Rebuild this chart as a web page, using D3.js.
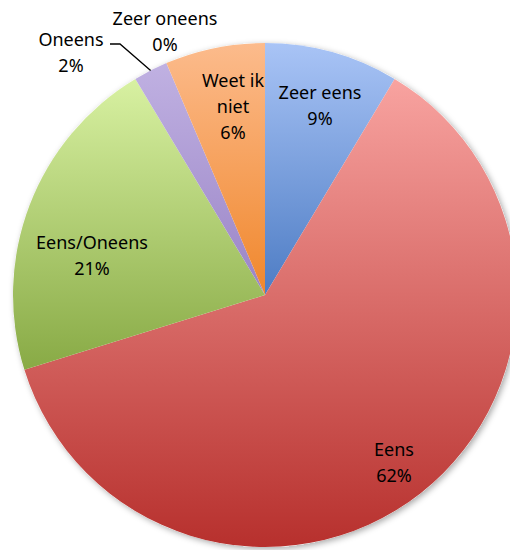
<!DOCTYPE html>
<html>
<head>
<meta charset="utf-8">
<script src="https://cdn.jsdelivr.net/npm/d3@7"></script>
<style>
  body { margin: 0; background: #fff; }
  svg { display: block; font-family: "Noto Sans", sans-serif; }
</style>
</head>
<body>
<div id="chart"></div>
<script>
// data (percentages)
var categories = ["Zeer eens", "Eens", "Eens/Oneens", "Oneens", "Zeer oneens", "Weet ik niet"];
var values = [8.6, 61.6, 21.2, 2.2, 0.0, 6.4];
var pctLabels = ["9%", "62%", "21%", "2%", "0%", "6%"];

// gradient colours per slice: [top, bottom]
var colors = [
  ["#a9c4f6", "#4d7cc4"],
  ["#f8a3a0", "#b7302d"],
  ["#d8f1a2", "#88aa45"],
  ["#c0b1e2", "#9a84c6"],
  ["#ffffff", "#ffffff"],
  ["#fcbb8c", "#f0872c"]
];

// label layout (text lines + centre)
var labelLayout = {
  "Zeer eens":    { lines: ["Zeer eens"], x: 320, y: 92 },
  "Eens":         { lines: ["Eens"], x: 394, y: 449 },
  "Eens/Oneens":  { lines: ["Eens/Oneens"], x: 92, y: 242 },
  "Oneens":       { lines: ["Oneens"], x: 71, y: 39 },
  "Zeer oneens":  { lines: ["Zeer oneens"], x: 165, y: 18 },
  "Weet ik niet": { lines: ["Weet ik", "niet"], x: 233, y: 80 }
};
var lineH = 26;

var width = 510, height = 550;
var cx = 265, cy = 295, radius = 252;

var svg = d3.select("#chart").append("svg")
    .attr("width", width)
    .attr("height", height);

var defs = svg.append("defs");

var shadow = defs.append("filter")
    .attr("id", "shadow")
    .attr("x", "-10%").attr("y", "-10%")
    .attr("width", "120%").attr("height", "120%");
shadow.append("feDropShadow")
    .attr("dx", 2).attr("dy", 2)
    .attr("stdDeviation", 3)
    .attr("flood-color", "#000")
    .attr("flood-opacity", 0.35);

colors.forEach(function(c, i) {
  var g = defs.append("linearGradient")
      .attr("id", "grad" + i)
      .attr("x1", 0).attr("y1", 0).attr("x2", 0).attr("y2", 1);
  g.append("stop").attr("offset", "0%").attr("stop-color", c[0]);
  g.append("stop").attr("offset", "100%").attr("stop-color", c[1]);
});

var data = categories.map(function(c, i) {
  return { name: c, value: values[i], pct: pctLabels[i], idx: i };
});

var pie = d3.pie()
    .sort(null)
    .value(function(d) { return d.value; });

var arc = d3.arc()
    .innerRadius(0)
    .outerRadius(radius);

var arcs = pie(data);

var g = svg.append("g")
    .attr("transform", "translate(" + cx + "," + cy + ")");

// shadow underneath the whole pie
g.append("circle")
    .attr("r", radius)
    .attr("fill", "#fff")
    .attr("filter", "url(#shadow)");

g.selectAll("path.slice")
  .data(arcs.filter(function(d) { return d.value > 0; }))
  .enter().append("path")
    .attr("class", "slice")
    .attr("d", arc)
    .attr("fill", function(d) { return "url(#grad" + d.data.idx + ")"; });

// leader line for "Oneens"
var one = arcs[3];
var mid = (one.startAngle + one.endAngle) / 2;
var px = cx + radius * Math.sin(mid), py = cy - radius * Math.cos(mid);
var lab = labelLayout["Oneens"];
svg.append("polyline")
    .attr("points", [
      [lab.x + 39, lab.y + 5],
      [lab.x + 49, lab.y + 5],
      [px, py]
    ].map(function(p) { return p.join(","); }).join(" "))
    .attr("fill", "none")
    .attr("stroke", "#000")
    .attr("stroke-width", 1.3);

// labels
data.forEach(function(d) {
  var l = labelLayout[d.name];
  var t = svg.append("text")
      .attr("text-anchor", "middle")
      .attr("font-size", 18)
      .attr("fill", "#000");
  l.lines.concat([d.pct]).forEach(function(s, k) {
    t.append("tspan")
      .attr("x", l.x)
      .attr("y", l.y + k * lineH)
      .attr("dominant-baseline", "central")
      .text(s);
  });
});
</script>
</body>
</html>
